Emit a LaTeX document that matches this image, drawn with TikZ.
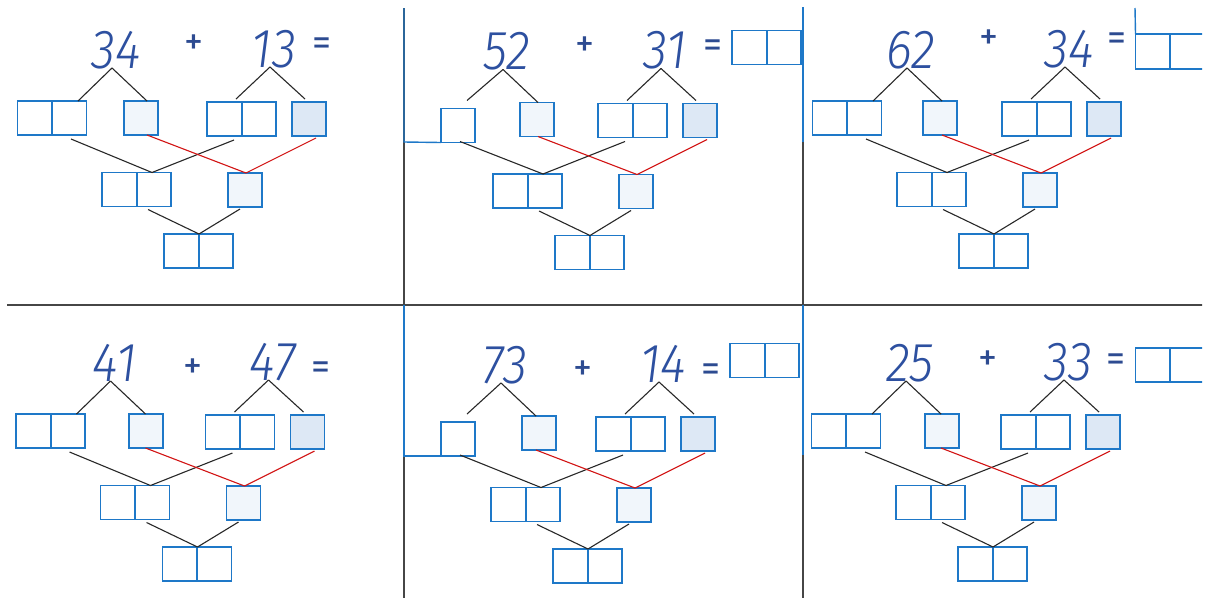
\documentclass[tikz,border=0pt]{standalone}
\usepackage{fontspec}
\newfontfamily\hand{Fira Sans Light Italic}
\newfontfamily\opfont{Fira Sans}
\usetikzlibrary{calc}
\definecolor{boxblue}{RGB}{30,120,200}
\definecolor{litefill}{RGB}{241,246,251}
\definecolor{darkfill}{RGB}{221,232,245}
\definecolor{numblue}{RGB}{45,80,160}
\definecolor{opblue}{RGB}{45,75,145}
\definecolor{linegray}{RGB}{40,40,40}
\definecolor{redline}{RGB}{210,20,20}
\definecolor{divgray}{RGB}{70,70,70}
\tikzset{
  cellbox/.style={rectangle, draw=boxblue, line width=1.6pt, minimum width=34pt, minimum height=34pt, inner sep=0pt, outer sep=0pt, fill=white},
  dblbox/.style={cellbox, minimum width=69pt, path picture={\draw[boxblue, line width=2pt] (path picture bounding box.north) -- (path picture bounding box.south);}},
  litebox/.style={cellbox, fill=litefill},
  darkbox/.style={cellbox, fill=darkfill},
  conn/.style={draw=linegray, line width=1.1pt},
  redconn/.style={draw=redline, line width=1.1pt},
  numtext/.style={font=\hand\fontsize{55}{55}\selectfont, text=numblue, anchor=base, inner sep=0pt, xscale=0.9},
  optext/.style={font=\opfont\fontsize{38}{38}\selectfont, text=opblue, inner sep=0pt},
  divider/.style={draw=divgray, line width=1.2pt},
  bluerule/.style={draw=boxblue, line width=1.4pt},
}
% #1 id, #2 #3 origin, #4 #5 numbers, #6 operator height, #7 centre of the light box
\newcommand{\mypanel}[7]{%
  \begin{scope}[shift={(#2,#3)}]
    \node[numtext] (#1n1) at (116,68) {#4};
    \node[numtext] (#1n2) at (274,67) {#5};
    \node[optext] (#1plus) at (194,#6) {+};
    \node[optext] (#1eq) at (322,{#6+2}) {=};
    \node[litebox] (#1B) at (#7,118) {};
    \node[dblbox] (#1C) at (241.5,119) {};
    \node[darkbox] (#1D) at (309,119) {};
    \node[dblbox] (#1E) at (136.5,189.5) {};
    \node[litebox] (#1F) at (245,190) {};
    \node[dblbox] (#1G) at (198.5,251) {};
    \draw[conn] ([xshift=-4pt]#1n1.base) -- ([xshift={(147-#7)*1pt}]#1B.north);
    \draw[conn] ([xshift=-4pt]#1n2.base) -- ([xshift=-5.5pt,yshift=3pt]#1C.north);
    \draw[conn] ([xshift=-4pt]#1n2.base) -- ([xshift=-4pt,yshift=3pt]#1D.north);
    \draw[conn] ([xshift=-7.5pt,yshift=-4pt]#1C.south) -- ([xshift=15.5pt]#1E.north);
    \draw[redconn] ([xshift={(147-#7)*1pt}]#1B.south) -- ([xshift=1pt]#1F.north);
    \draw[redconn] ([xshift=7pt,yshift=-2pt]#1D.south) -- ([xshift=1pt]#1F.north);
    \draw[conn] ([xshift=11.5pt,yshift=-3pt]#1E.south) -- ([xshift=0.5pt]#1G.north);
    \draw[conn] ([xshift=-5pt,yshift=-2pt]#1F.south) -- ([xshift=0.5pt]#1G.north);
  \end{scope}}
% the two-digit box A of a panel
\newcommand{\boxAdbl}[3]{%
  \begin{scope}[shift={(#2,#3)}]
    \node[dblbox] (#1A) at (52,118) {};
    \draw[conn] ([xshift=-4pt]#1n1.base) -- ([xshift=26pt]#1A.north);
    \draw[conn] ([xshift=19pt,yshift=-4pt]#1A.south) -- ([xshift=15.5pt]#1E.north);
  \end{scope}}
% the one-digit box A of a panel
\newcommand{\boxAsgl}[5]{%
  \begin{scope}[shift={(#2,#3)}]
    \node[cellbox] (#1A) at (#4,#5) {};
    \draw[conn] ([xshift=-4pt]#1n1.base) -- ([xshift=9pt,yshift=8pt]#1A.north);
    \draw[conn] ([xshift=2pt,yshift=1pt]#1A.south) -- ([xshift=15.5pt]#1E.north);
  \end{scope}}
\begin{document}
\begin{tikzpicture}[x=1pt,y=-1pt]
  \useasboundingbox[fill=white] (0,0) rectangle (1206,598);
  \clip (0,0) rectangle (1202,598);
  % dividers
  \draw[divider] (7,305) -- (1206,305);
  \draw[divider] (404,8) -- (404,598);
  \draw[divider] (803,8) -- (803,598);
  % panels
  \mypanel{P1}{0}{0}{34}{13}{45}{141}
  \boxAdbl{P1}{0}{0}
  \mypanel{P2}{391}{1.5}{52}{31}{45}{146}
  \boxAsgl{P2}{391}{1.5}{67}{124}
  \mypanel{P3}{795}{0}{62}{34}{40}{145}
  \boxAdbl{P3}{795}{0}
  \mypanel{P4}{-1.5}{313}{41}{47}{56}{147.5}
  \boxAdbl{P4}{-1.5}{313}
  \mypanel{P5}{389}{315}{73}{14}{56}{150}
  \boxAsgl{P5}{389}{315}{69}{124}
  \mypanel{P6}{794}{313}{25}{33}{48}{148}
  \boxAdbl{P6}{794}{313}
  % answer boxes
  \node[dblbox] (P2ans) at (766.5,47.5) {};
  \node[dblbox, minimum height=35pt] (P3ans) at (1170,51.5) {};
  \node[dblbox] (P5ans) at (764.5,360.5) {};
  \node[dblbox] (P6ans) at (1170,365) {};
  % blue rules
  \draw[bluerule] (404,8) -- (404,142) -- (P2A.south west);
  \draw[bluerule] (803,7) -- (803,142);
  \draw[bluerule] (404,305) -- (404,456) -- (P5A.south west);
  \draw[bluerule] (803,305) -- (803,455);
  \coordinate (P3top) at (1135,8);
  \draw[bluerule] (P3top) -- (P3ans.north west);
\end{tikzpicture}
\end{document}
